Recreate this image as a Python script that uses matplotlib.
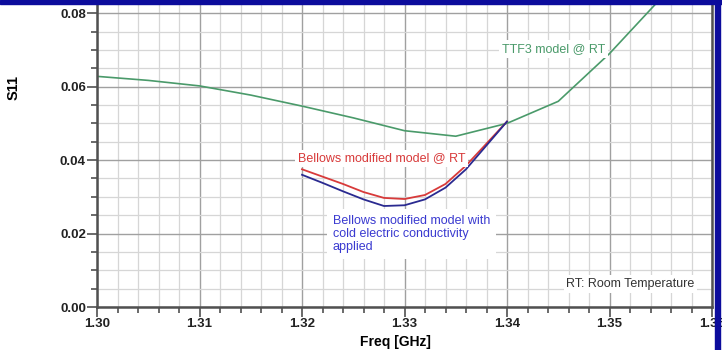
import matplotlib
matplotlib.use("Agg")
import matplotlib.pyplot as plt
from matplotlib.patches import Rectangle
from matplotlib.ticker import MultipleLocator, FormatStrFormatter

plt.rcParams['font.family'] = ['Liberation Sans', 'DejaVu Sans']

# TTF3 model @ RT
ttf3_freq = [1.300, 1.305, 1.310, 1.315, 1.320, 1.325, 1.330, 1.335, 1.340, 1.345, 1.350, 1.355]
ttf3_s11 = [0.0628, 0.0617, 0.0602, 0.0577, 0.0547, 0.0515, 0.0480, 0.0465, 0.0500, 0.0560, 0.0690, 0.0840]

# Bellows modified models
bel_freq = [1.320, 1.322, 1.324, 1.326, 1.328, 1.330, 1.332, 1.334, 1.336, 1.338, 1.340]
bel_rt_s11 = [0.0375, 0.0355, 0.0335, 0.0313, 0.0297, 0.0294, 0.0305, 0.0335, 0.0385, 0.0445, 0.0505]
bel_cold_s11 = [0.0360, 0.0338, 0.0315, 0.0293, 0.0275, 0.0277, 0.0293, 0.0325, 0.0375, 0.0440, 0.0505]

fig = plt.figure(figsize=(7.22, 3.5), dpi=100)
ax = fig.add_axes([97 / 722, 43 / 350, 615 / 722, 303 / 350])

ax.plot(ttf3_freq, ttf3_s11, color='#4a9a6a', lw=1.2)
ax.plot(bel_freq, bel_rt_s11, color='#d83a3a', lw=1.3)
ax.plot(bel_freq, bel_cold_s11, color='#2a2a90', lw=1.3)

ax.set_xlim(1.30, 1.36)
ax.set_ylim(0, 0.0825)
ax.xaxis.set_major_locator(MultipleLocator(0.01))
ax.xaxis.set_minor_locator(MultipleLocator(0.002))
ax.yaxis.set_major_locator(MultipleLocator(0.02))
ax.yaxis.set_minor_locator(MultipleLocator(0.005))
ax.xaxis.set_major_formatter(FormatStrFormatter('%.2f'))
ax.yaxis.set_major_formatter(FormatStrFormatter('%.2f'))

ax.grid(which='major', color='#a0a0a0', lw=1.0)
ax.grid(which='minor', color='#d6d6d6', lw=0.9)
ax.set_axisbelow(True)

for s in ['left', 'bottom', 'right']:
    ax.spines[s].set_color('#505050')
    ax.spines[s].set_linewidth(1.8)
ax.spines['top'].set_visible(False)

ax.tick_params(which='major', length=7, width=1.2, color='#505050', labelsize=9.5, pad=1)
ax.tick_params(which='minor', length=4, width=1.2, color='#505050')
for lab in ax.get_xticklabels() + ax.get_yticklabels():
    lab.set_fontweight('bold')
    lab.set_color('#222222')

ax.set_ylabel('S11', fontsize=10.5, fontweight='bold')
ax.yaxis.set_label_coords(-0.125, 0.726)
ax.set_xlabel('Freq [GHz]', fontsize=10, fontweight='bold')
ax.xaxis.set_label_coords(0.485, -0.092)

box = dict(facecolor='white', edgecolor='none', pad=2)
ax.text(1.3395, 0.0702, 'TTF3 model @ RT', color='#4a9a6a', fontsize=9,
        ha='left', va='center', bbox=box)
ax.text(1.3196, 0.0405, 'Bellows modified model @ RT', color='#d83a3a', fontsize=9,
        ha='left', va='center', bbox=box)
ax.text(1.3230, 0.0199, 'Bellows modified model with\ncold electric conductivity\napplied',
        color='#3a3ad0', fontsize=9, ha='left', va='center', linespacing=1.15,
        bbox=dict(facecolor='white', edgecolor='none', pad=4))
ax.text(1.3458, 0.0063, 'RT: Room Temperature', color='#333333', fontsize=9,
        ha='left', va='center', bbox=box)

# blue frame at top and right edge
fig.patches.append(Rectangle((0, 1 - 4 / 350), 1, 4 / 350, transform=fig.transFigure,
                             color='#0c0c9c', zorder=10))
fig.patches.append(Rectangle((715 / 722, 0), 5 / 722, 1, transform=fig.transFigure,
                             color='#0c0c9c', zorder=10))

fig.savefig('out.png', dpi=100)
